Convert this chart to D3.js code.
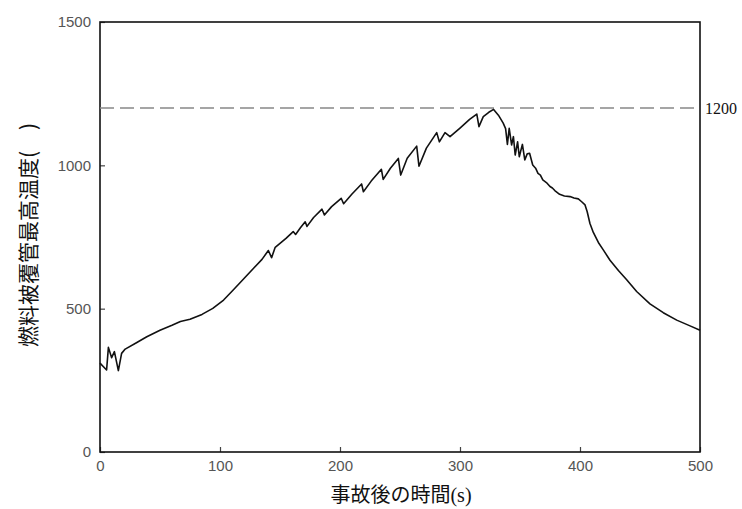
<!DOCTYPE html>
<html>
<head>
<meta charset="utf-8">
<script src="https://cdn.jsdelivr.net/npm/d3@7"></script>
<style>
  html, body { margin: 0; padding: 0; background: #fff; }
  svg { display: block; }
</style>
</head>
<body>
<svg id="chart" width="742" height="509"></svg>
<script>
// Time after the accident (s)
const timeSec = [
  0, 5.5, 7, 9.7, 12, 15.3, 18, 21, 30, 39, 50, 60, 67, 75, 85, 94, 103, 111,
  120, 128, 135, 140.3, 143, 146, 150, 155, 161, 163, 167, 171, 172.5, 178,
  185, 187, 193, 201, 203, 210, 218, 219.5, 226, 234.5, 236, 242, 248.6,
  250.6, 256, 263.9, 265.8, 272, 280.6, 282.8, 287.5, 291.7, 300, 308, 314,
  315.8, 319.4, 324, 328, 332, 336, 338, 339.5, 341, 343, 344.5, 346, 348,
  349.4, 352, 354, 356, 358, 360.6, 363, 365, 367, 369, 372, 375, 377, 379,
  383, 387, 391.7, 395, 398.6, 401.4, 404.2, 406, 408.3, 411.1, 415.3, 419.4,
  425, 432, 438.9, 447.2, 458.3, 469.4, 480.6, 491.7, 500
];

// Peak cladding temperature (deg C)
const cladTemp = [
  310, 286, 365, 329, 350, 284, 344, 359, 380, 402, 425, 442, 455, 463, 480,
  501, 530, 565, 605, 641, 672, 703, 678, 714, 728, 745, 769, 759, 782, 803,
  787, 818, 847, 827, 856, 885, 866, 900, 935, 908, 945, 986, 951, 990, 1024,
  966, 1025, 1067, 997, 1060, 1114, 1082, 1114, 1100, 1130, 1160, 1179,
  1135, 1170, 1185, 1195, 1175, 1147, 1128, 1073, 1129, 1071, 1100, 1036,
  1082, 1030, 1073, 1019, 1040, 1042, 1001, 990, 972, 966, 949, 940, 926,
  921, 912, 899, 893, 891, 886, 883, 873, 862, 838, 797, 766, 731, 705,
  669, 633, 601, 560, 517, 486, 460, 440, 425
];

const xTicks = [0, 100, 200, 300, 400, 500];
const yTicks = [0, 500, 1000, 1500];
const limitTemp = 1200;
const limitLabel = "1200";
const xTitleMain = "事故後の時間";
const xTitleUnit = "(s)";
const yTitle = "燃料被覆管最高温度(　)";

const svg = d3.select("#chart");
const margin = { left: 100, right: 42, top: 22, bottom: 57 };
const W = 742, H = 509;
const innerW = W - margin.left - margin.right;
const innerH = H - margin.top - margin.bottom;

const x = d3.scaleLinear().domain([0, 500]).range([margin.left, margin.left + innerW]);
const y = d3.scaleLinear().domain([0, 1500]).range([margin.top + innerH, margin.top]);

const tickFont = "'Liberation Sans', Arial, sans-serif";
const fmt = d3.format("d");

// Left axis, ticks pointing inward
const yAxis = svg.append("g")
  .attr("transform", `translate(${margin.left},0)`)
  .call(d3.axisLeft(y).tickValues(yTicks).tickFormat(fmt).tickSize(-5).tickPadding(9));
// Bottom axis, ticks pointing inward
const xAxis = svg.append("g")
  .attr("transform", `translate(0,${margin.top + innerH})`)
  .call(d3.axisBottom(x).tickValues(xTicks).tickFormat(fmt).tickSize(-5).tickPadding(8));

[yAxis, xAxis].forEach(g => {
  g.attr("font-family", null).attr("font-size", null);
  g.select(".domain").remove();
  g.selectAll(".tick line").attr("stroke", "#444").attr("stroke-width", 1.2);
  g.selectAll(".tick text")
    .attr("fill", "#555")
    .style("font-family", tickFont)
    .style("font-size", "15px");
});

// Plot frame
svg.append("rect")
  .attr("x", x(0)).attr("y", y(1500))
  .attr("width", x(500) - x(0)).attr("height", y(0) - y(1500))
  .attr("fill", "none").attr("stroke", "#111").attr("stroke-width", 1.6);

// 1200 deg C limit line
svg.append("line")
  .attr("x1", x(0)).attr("x2", x(500))
  .attr("y1", y(limitTemp)).attr("y2", y(limitTemp))
  .attr("stroke", "#888").attr("stroke-width", 1.6)
  .attr("stroke-dasharray", "14,6");

svg.append("text")
  .attr("x", x(500) + 5).attr("y", y(limitTemp))
  .attr("dy", "0.35em")
  .style("font-family", "'Liberation Serif', 'Times New Roman', serif")
  .style("font-size", "16px")
  .attr("fill", "#111")
  .text(limitLabel);

// Temperature curve
const pts = timeSec.map((t, i) => [t, cladTemp[i]]);
svg.append("path")
  .datum(pts)
  .attr("fill", "none")
  .attr("stroke", "#111")
  .attr("stroke-width", 1.6)
  .attr("stroke-linejoin", "round")
  .attr("d", d3.line().x(d => x(d[0])).y(d => y(d[1])));

// Axis titles
const xt = svg.append("text")
  .attr("x", 401).attr("y", 495)
  .attr("text-anchor", "middle").attr("dy", "0.35em")
  .style("font-size", "20px")
  .attr("fill", "#111");
xt.append("tspan")
  .style("font-family", "'Noto Sans CJK JP', sans-serif")
  .text(xTitleMain);
xt.append("tspan")
  .style("font-family", "'Liberation Serif', 'Times New Roman', serif")
  .text(xTitleUnit);

svg.append("text")
  .attr("transform", "translate(29,235) rotate(-90)")
  .attr("text-anchor", "middle").attr("dy", "0.35em")
  .style("font-family", "'Noto Sans CJK JP', sans-serif")
  .style("font-size", "21px")
  .attr("fill", "#111")
  .text(yTitle);
</script>
</body>
</html>
